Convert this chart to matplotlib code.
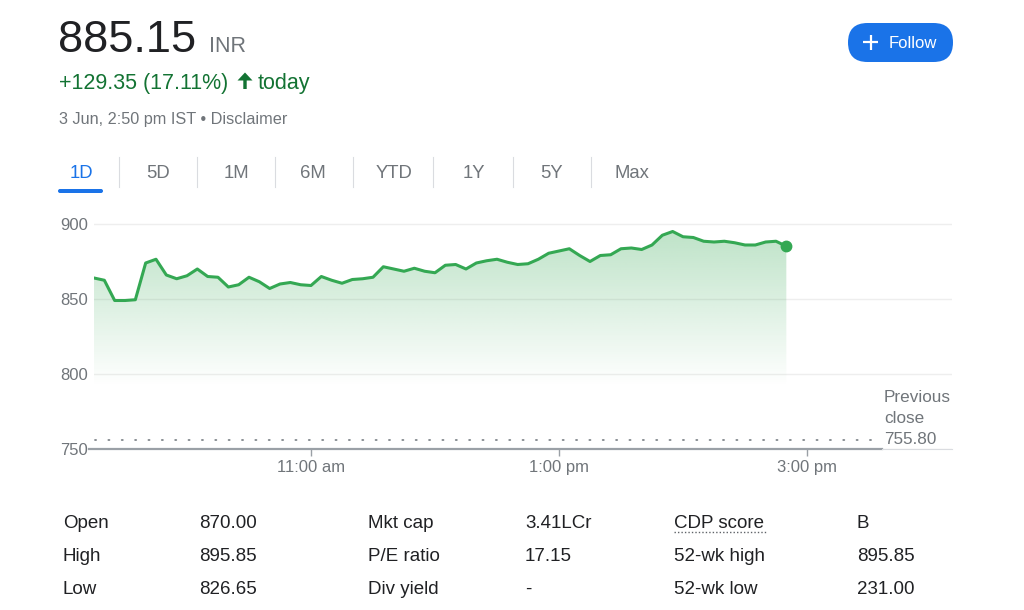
import numpy as np
import pandas as pd
import matplotlib
matplotlib.use("Agg")
import matplotlib.pyplot as plt
from matplotlib.patches import FancyBboxPatch, Polygon

plt.rcParams['font.family'] = ['Liberation Sans', 'DejaVu Sans']

# ---------------- data ----------------
prices = [864, 862.5, 849, 849, 849.5, 874, 876.5, 866, 863.5, 865.5,
          870, 865, 864.5, 858, 859.5, 864.5, 861.5, 857, 860, 861,
          859.5, 859, 865, 862.5, 860.5, 863, 863.5, 864.5, 871.5, 870,
          868.5, 870.5, 868.5, 867.5, 872.5, 873, 870, 874, 875.5, 876.5,
          874.5, 873, 873.5, 876.5, 880.5, 882, 883.5, 879, 875, 879,
          879.5, 883.5, 884, 883, 886, 892.5, 895, 891.5, 891, 888.5,
          888, 888.5, 887.5, 886, 886, 888, 888.5, 885.15]
times = pd.date_range('2024-06-03 09:15', periods=len(prices), freq='5min')
prev_close = 755.80
y_ticks = [750, 800, 850, 900]
x_tick_hours = [11, 13, 15]
x_tick_labels = ['11:00 am', '1:00 pm', '3:00 pm']
tabs = ['1D', '5D', '1M', '6M', 'YTD', '1Y', '5Y', 'Max']
table_rows = [
    ['Open', '870.00', 'Mkt cap', '3.41LCr', 'CDP score', 'B'],
    ['High', '895.85', 'P/E ratio', '17.15', '52-wk high', '895.85'],
    ['Low', '826.65', 'Div yield', '-', '52-wk low', '231.00'],
]

GREEN = '#34a853'
DGREEN = '#137333'
GREY = '#70757a'
DARK = '#202124'
BLUE = '#1a73e8'

W, H = 1024, 610
fig = plt.figure(figsize=(W / 100, H / 100), dpi=100)
fig.patch.set_facecolor('white')

# overlay axes in pixel coordinates
ov = fig.add_axes([0, 0, 1, 1])
ov.set_xlim(0, W)
ov.set_ylim(H, 0)
ov.axis('off')

# ---------------- header ----------------
ov.text(58, 52, '885.15', fontsize=32.5, color=DARK, va='baseline', ha='left')
ov.text(209, 52, 'INR', fontsize=15.5, color=GREY, va='baseline', ha='left')
ov.text(59, 89, '+129.35 (17.11%)', fontsize=15.5, color=DGREEN, va='baseline', ha='left')
arrow = Polygon([(245, 72.5), (252.5, 80.5), (246.7, 80.5), (246.7, 89),
                 (243.3, 89), (243.3, 80.5), (237.5, 80.5)],
                closed=True, color=DGREEN, lw=0)
ov.add_patch(arrow)
ov.text(258, 89, 'today', fontsize=15.5, color=DGREEN, va='baseline', ha='left')
ov.text(59, 124, '3 Jun, 2:50 pm IST \u2022 Disclaimer', fontsize=11.7, color=GREY,
        va='baseline', ha='left')

# Follow button
btn = FancyBboxPatch((848, 23), 105, 39, boxstyle='round,pad=0,rounding_size=19.5',
                     fc=BLUE, ec='none')
ov.add_patch(btn)
ov.plot([863, 878], [42, 42], color='white', lw=1.6, solid_capstyle='butt')
ov.plot([870.5, 870.5], [34.5, 49.5], color='white', lw=1.6, solid_capstyle='butt')
ov.text(889, 47.5, 'Follow', fontsize=12, color='white', va='baseline', ha='left')

# tabs
tab_centers = [81, 158, 236, 313, 394, 474, 552, 632]
for lab, cx in zip(tabs, tab_centers):
    ov.text(cx, 178, lab, fontsize=13.3, color=BLUE if lab == '1D' else GREY,
            va='baseline', ha='center')
for sx in [119, 197, 275, 353, 433, 513, 591]:
    ov.plot([sx, sx], [157, 187], color='#dadce0', lw=0.8)
ov.add_patch(FancyBboxPatch((58, 189), 45, 4, boxstyle='round,pad=0,rounding_size=2',
                            fc=BLUE, ec='none'))

# ---------------- chart ----------------
x_left, x_right = 94, 952
y_bottom_px, y_top_px = 449, 201.5
px_per_hour = 124.0
ymin, ymax = 750, 750 + (y_bottom_px - y_top_px) / 1.5
x0 = 9.25
x1 = x0 + (x_right - x_left) / px_per_hour
wpx = x_right - x_left

ax = fig.add_axes([x_left / W, 1 - y_bottom_px / H, wpx / W,
                   (y_bottom_px - y_top_px) / H])
ax.patch.set_alpha(0)
hrs = np.array(times.hour + times.minute / 60.0, dtype=float)
ax.set_xlim(x0, x1)
ax.set_ylim(ymin, ymax)
for s in ax.spines.values():
    s.set_visible(False)

ax.grid(axis='y', color='#eeeeee', lw=1.0, zorder=0)
ax.set_axisbelow(True)

# gradient fill
poly = ax.fill_between(hrs, prices, ymin, color='none', lw=0)
ny = 300
yy = np.linspace(ymax, ymin, ny)
alpha = np.clip((yy - 792) / (895 - 792), 0, 1) * 0.32
rgba = np.zeros((ny, 2, 4))
rgba[..., 0] = 52 / 255
rgba[..., 1] = 168 / 255
rgba[..., 2] = 83 / 255
rgba[..., 3] = alpha[:, None]
im = ax.imshow(rgba, extent=[hrs[0], hrs[-1], ymin, ymax], origin='upper',
               aspect='auto', zorder=1, interpolation='bilinear')
im.set_clip_path(poly.get_paths()[0], transform=ax.transData)

ax.plot(hrs, prices, color=GREEN, lw=2.2, zorder=3, solid_joinstyle='round')
ax.plot(hrs[-1], prices[-1], 'o', color=GREEN, ms=7.5, zorder=4)

# previous close dotted line
ax.axhline(prev_close, xmin=1 / wpx, xmax=(878 - x_left) / wpx, color='#80868b', lw=1.3,
           linestyle=(0, (0.6, 6.8)), dash_capstyle='round', zorder=2)

# bottom axis line
ax.plot([(89 - x_left) / wpx, (882 - x_left) / wpx], [0, 0], transform=ax.transAxes,
        clip_on=False, color='#9aa0a6', lw=1.6, zorder=5)
ax.plot([(882 - x_left) / wpx, 1], [0, 0], transform=ax.transAxes, clip_on=False,
        color='#dadce0', lw=0.8, zorder=5)

ax.set_yticks(y_ticks)
ax.set_yticklabels([str(v) for v in y_ticks])
ax.set_xticks(x_tick_hours)
ax.set_xticklabels(x_tick_labels)
ax.tick_params(axis='y', length=0, pad=4.2, labelsize=12, labelcolor=GREY)
ax.tick_params(axis='x', length=5, width=1, color='#9aa0a6', pad=3, labelsize=12,
               labelcolor=GREY)

# previous close label
for i, t in enumerate(['Previous', 'close', '755.80']):
    ov.text(884, 402 + 21 * i, t, fontsize=12.3, color=GREY, va='baseline', ha='left')

# ---------------- table ----------------
col_x = [63, 199, 368, 525, 674, 857]
row_y = [528, 561, 594]
for r, row in enumerate(table_rows):
    for c, val in enumerate(row):
        ov.text(col_x[c], row_y[r], val, fontsize=13.5, color=DARK,
                va='baseline', ha='left')
ov.plot([674, 766], [532, 532], color='#5f6368', lw=1.0, linestyle=(0, (1, 1.5)))

fig.savefig('out.png', dpi=100, facecolor='white')
